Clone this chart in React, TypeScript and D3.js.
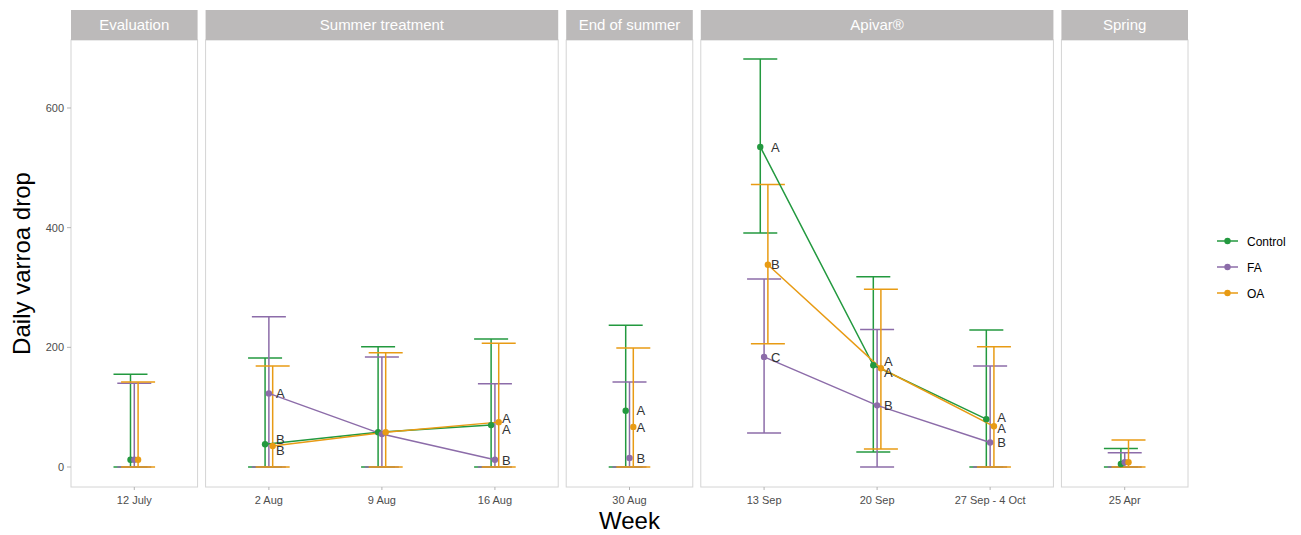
import React from "react";
import * as d3 from "d3";

// Facets and weeks
const panelNames = ["Evaluation", "Summer treatment", "End of summer", "Apivar®", "Spring"];
const weekLabels = ["12 July", "2 Aug", "9 Aug", "16 Aug", "30 Aug", "13 Sep", "20 Sep", "27 Sep - 4 Oct", "25 Apr"];
const weekPanel = [0, 1, 1, 1, 2, 3, 3, 3, 4];

// Treatments
const groups = ["Control", "FA", "OA"];
const groupColors = ["#23993f", "#8c6ca9", "#e89b14"];

// Daily varroa drop: mean with error-bar limits
const controlMean = [12, 38, 58, 70, 94, 535, 170, 80, 5];
const controlHigh = [155, 182, 201, 214, 237, 682, 318, 229, 31];
const controlLow = [0, 0, 0, 0, 0, 391, 25, 0, 0];
const faMean = [12, 123, 55, 12, 15, 184, 103, 41, 8];
const faHigh = [140, 251, 184, 139, 142, 314, 230, 169, 24];
const faLow = [0, 0, 0, 0, 0, 57, 0, 0, 0];
const oaMean = [12, 35, 58, 75, 67, 338, 165, 68, 8];
const oaHigh = [142, 169, 191, 207, 199, 472, 297, 201, 45];
const oaLow = [0, 0, 0, 0, 0, 206, 30, 0, 0];

// Significance letters
const controlLetters = ["", "B", "", "A", "A", "A", "A", "A", ""];
const faLetters = ["", "A", "", "B", "B", "C", "B", "B", ""];
const oaLetters = ["", "B", "", "A", "A", "B", "A", "A", ""];

const yTicks = [0, 200, 400, 600];

const means = [controlMean, faMean, oaMean];
const highs = [controlHigh, faHigh, oaHigh];
const lows = [controlLow, faLow, oaLow];
const letters = [controlLetters, faLetters, oaLetters];

const W = 1301;
const H = 535;
const plotLeft = 71;
const plotRight = 1188;
const stripTop = 10;
const stripBottom = 40;
const panelBottom = 487;
const gap = 8;
const pad = 0.56;
const FONT = "'Liberation Sans', Arial, Helvetica, sans-serif";

export default function App() {
  const y = d3.scaleLinear().domain([0, 600]).range([467, 108]);

  // Panel widths proportional to the number of weeks (free space facets)
  const counts = panelNames.map((_, p) => weekPanel.filter((w) => w === p).length);
  const units = counts.map((n) => n - 1 + 2 * pad);
  const totalUnits = d3.sum(units);
  const unitPx = (plotRight - plotLeft - gap * (panelNames.length - 1)) / totalUnits;
  const panels = panelNames.map((name, p) => {
    const x0 = plotLeft + d3.sum(units.slice(0, p)) * unitPx + gap * p;
    const x1 = x0 + units[p] * unitPx;
    const weeks = weekLabels.filter((_, i) => weekPanel[i] === p);
    const xs = d3.scalePoint<string>().domain(weeks).range([x0, x1]).padding(pad);
    return { name, x0, x1, weeks, xs };
  });

  const dodge = d3.scalePoint<string>().domain(groups).range([-3.8, 3.8]);
  const xOf = (i: number) => panels[weekPanel[i]].xs(weekLabels[i]) as number;
  const capHalf = 17;

  // Letter positions: start at each mean, then push apart labels of the same week that collide
  const minSep = 11;
  const labelItems: { gi: number; i: number; ly: number }[] = [];
  weekLabels.forEach((_, i) => {
    const items = groups
      .map((_, gi) => ({ gi, i, ly: y(means[gi][i]) }))
      .filter((d) => letters[d.gi][i])
      .sort((a, b) => a.ly - b.ly);
    for (let iter = 0; iter < 20; iter++) {
      for (let k = 1; k < items.length; k++) {
        const d = items[k].ly - items[k - 1].ly;
        if (d < minSep) {
          const push = (minSep - d) / 2;
          items[k - 1].ly -= push;
          items[k].ly += push;
        }
      }
    }
    labelItems.push(...items);
  });

  return (
    <svg width={W} height={H} style={{ position: "absolute", left: 0, top: 0, background: "#fff" }} fontFamily={FONT}>
      {/* panels */}
      {panels.map((p) => (
        <g key={p.name}>
          <rect x={p.x0} y={stripBottom} width={p.x1 - p.x0} height={panelBottom - stripBottom} fill="#fff" stroke="#d4d4d4" strokeWidth={1} />
          <rect x={p.x0} y={stripTop} width={p.x1 - p.x0} height={stripBottom - stripTop} fill="#bcbaba" />
          <text x={(p.x0 + p.x1) / 2} y={(stripTop + stripBottom) / 2 + 5} textAnchor="middle" fill="#fff" fontSize={15}>
            {p.name}
          </text>
          {p.weeks.map((w) => (
            <g key={w}>
              <line x1={p.xs(w)} x2={p.xs(w)} y1={panelBottom} y2={panelBottom + 3} stroke="#b3b3b3" />
              <text x={p.xs(w)} y={panelBottom + 17} textAnchor="middle" fontSize={11} fill="#4d4d4d">
                {w}
              </text>
            </g>
          ))}
        </g>
      ))}

      {/* y axis */}
      {yTicks.map((t) => (
        <g key={t}>
          <line x1={plotLeft - 4} x2={plotLeft} y1={y(t)} y2={y(t)} stroke="#b3b3b3" />
          <text x={plotLeft - 7} y={y(t) + 4} textAnchor="end" fontSize={11} fill="#4d4d4d">
            {t}
          </text>
        </g>
      ))}

      {/* error bars */}
      {groups.map((g, gi) => (
        <g key={"eb" + g} stroke={groupColors[gi]} strokeWidth={1.5} fill="none">
          {weekLabels.map((_, i) => {
            const cx = xOf(i) + (dodge(g) as number);
            return (
              <g key={i}>
                <line x1={cx} x2={cx} y1={y(lows[gi][i])} y2={y(highs[gi][i])} />
                <line x1={cx - capHalf} x2={cx + capHalf} y1={y(highs[gi][i])} y2={y(highs[gi][i])} />
                <line x1={cx - capHalf} x2={cx + capHalf} y1={y(lows[gi][i])} y2={y(lows[gi][i])} />
              </g>
            );
          })}
        </g>
      ))}

      {/* lines within each panel */}
      {groups.map((g, gi) => (
        <g key={"ln" + g}>
          {panels.map((p, pi) => {
            const idx = weekLabels.map((_, i) => i).filter((i) => weekPanel[i] === pi);
            if (idx.length < 2) return null;
            const pts: [number, number][] = idx.map((i) => [xOf(i) + (dodge(g) as number), y(means[gi][i])]);
            const path = d3.line()(pts) || "";
            return <path key={pi} d={path} fill="none" stroke={groupColors[gi]} strokeWidth={1.5} />;
          })}
        </g>
      ))}

      {/* points */}
      {groups.map((g, gi) => (
        <g key={"pt" + g} fill={groupColors[gi]}>
          {weekLabels.map((_, i) => (
            <circle key={i} cx={xOf(i) + (dodge(g) as number)} cy={y(means[gi][i])} r={3.2} />
          ))}
        </g>
      ))}

      {/* letters */}
      <g fill="#333" fontSize={13}>
        {labelItems.map((d) => (
          <text key={d.gi + "-" + d.i} x={xOf(d.i) + 7} y={d.ly + 4.7}>
            {letters[d.gi][d.i]}
          </text>
        ))}
      </g>

      {/* axis titles */}
      <text x={(plotLeft + plotRight) / 2} y={529} textAnchor="middle" fontSize={24} fill="#000">
        Week
      </text>
      <text transform={`translate(30, ${(stripBottom + panelBottom) / 2}) rotate(-90)`} textAnchor="middle" fontSize={24} fill="#000">
        Daily varroa drop
      </text>

      {/* legend */}
      {groups.map((g, gi) => {
        const ly = 241 + gi * 26;
        return (
          <g key={"lg" + g}>
            <line x1={1217} x2={1238} y1={ly} y2={ly} stroke={groupColors[gi]} strokeWidth={1.5} />
            <circle cx={1227.5} cy={ly} r={3.2} fill={groupColors[gi]} />
            <text x={1247} y={ly + 4.5} fontSize={12} fill="#000">
              {g}
            </text>
          </g>
        );
      })}
    </svg>
  );
}
